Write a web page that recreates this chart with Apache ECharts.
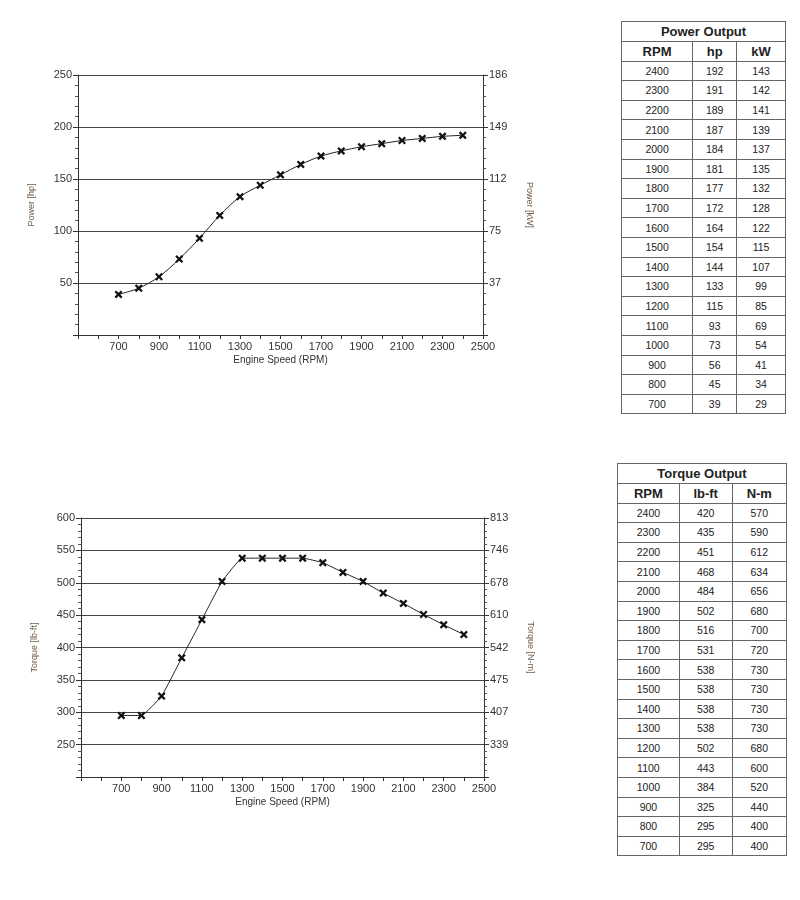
<!DOCTYPE html>
<html><head><meta charset="utf-8">
<script src="https://cdn.jsdelivr.net/npm/echarts@6/dist/echarts.min.js"></script>
<style>
body{margin:0;background:#fff;font-family:"Liberation Sans",Arial,sans-serif;}
#c{position:absolute;left:0;top:0;width:800px;height:900px;}
table{position:absolute;border-collapse:collapse;font-size:10.5px;color:#222;background:#fff;}
td,th{border:1px solid #666;text-align:center;padding:0;height:18.6px;}
th{font-weight:bold;font-size:13px;}
</style></head><body>
<div id="c"></div>
<table id="tp" style="left:621px;top:21px;width:165px;"></table>
<table id="tt" style="left:617px;top:463px;width:170px;"></table>
<script>
const rpm=[700,800,900,1000,1100,1200,1300,1400,1500,1600,1700,1800,1900,2000,2100,2200,2300,2400];
const hp=[39,45,56,73,93,115,133,144,154,164,172,177,181,184,187,189,191,192];
const kw=[29,34,41,54,69,85,99,107,115,122,128,132,135,137,139,141,142,143];
const lbft=[295,295,325,384,443,502,538,538,538,538,531,516,502,484,468,451,435,420];
const nm=[400,400,440,520,600,680,730,730,730,730,720,700,680,656,634,612,590,570];
const kwLabels={50:'37',100:'75',150:'112',200:'149',250:'186'};
const nmLabels={250:'339',300:'407',350:'475',400:'542',450:'610',500:'678',550:'746',600:'813'};

function buildTable(id,title,h1,h2,a,b){
  let s='<tr><th colspan="3" style="height:19px">'+title+'</th></tr><tr><th>RPM</th><th>'+h1+'</th><th>'+h2+'</th></tr>';
  for(let i=rpm.length-1;i>=0;i--) s+='<tr><td>'+rpm[i]+'</td><td>'+a[i]+'</td><td>'+b[i]+'</td></tr>';
  document.getElementById(id).innerHTML=s;
}
buildTable('tp','Power Output','hp','kW',hp,kw);
buildTable('tt','Torque Output','lb-ft','N-m',lbft,nm);

const X='path://M0,2L2,0L5,3L8,0L10,2L7,5L10,8L8,10L5,7L2,10L0,8L3,5Z';
const lab={color:'#333',fontSize:11,fontFamily:'Liberation Sans'};
function xAxis(g){return {type:'value',gridIndex:g,min:500,max:2500,interval:100,
  name:'Engine Speed (RPM)',nameLocation:'middle',nameGap:20,nameTextStyle:{fontSize:10,color:'#333'},
  axisLine:{lineStyle:{color:'#333'}},axisTick:{inside:false,length:4,lineStyle:{color:'#333'}},
  axisLabel:Object.assign({margin:6,formatter:v=>(v>=700&&v%200===100)||v===2500?String(v):''},lab),
  splitLine:{show:false}};}
function yAxis(g,min,max,pos,fmt,name,split){return {type:'value',gridIndex:g,min:min,max:max,interval:50,position:pos,
  name:name,nameLocation:'middle',nameGap:pos==='left'?42:42,nameRotate:pos==='left'?90:-90,
  nameTextStyle:{fontSize:9,color:'#6d5a48'},
  axisLine:{show:true,lineStyle:{color:'#333'}},axisTick:{show:true,length:5,lineStyle:{color:'#333'}},
  minorTick:{show:true,splitNumber:5,length:3,lineStyle:{color:'#555'}},
  axisLabel:Object.assign({margin:6,formatter:fmt},lab),
  splitLine:{show:split,lineStyle:{color:'#444',width:1}}};}
const chart=echarts.init(document.getElementById('c'));
chart.setOption({
  animation:false,
  grid:[{left:78,top:75,width:405,height:260},{left:81,top:518,width:403,height:259}],
  xAxis:[xAxis(0),xAxis(1)],
  yAxis:[
    yAxis(0,0,250,'left',v=>v===0?'':String(v),'Power [hp]',true),
    yAxis(0,0,250,'right',v=>kwLabels[v]||'','Power [kW]',false),
    yAxis(1,200,600,'left',v=>v===200?'':String(v),'Torque [lb-ft]',true),
    yAxis(1,200,600,'right',v=>nmLabels[v]||'','Torque [N-m]',false)
  ],
  series:[
    {type:'line',xAxisIndex:0,yAxisIndex:0,data:rpm.map((r,i)=>[r,hp[i]]),smooth:0.3,
     symbol:X,symbolSize:8,itemStyle:{color:'#111'},lineStyle:{color:'#222',width:1}},
    {type:'line',xAxisIndex:1,yAxisIndex:2,data:rpm.map((r,i)=>[r,lbft[i]]),smooth:0.1,
     symbol:X,symbolSize:8,itemStyle:{color:'#111'},lineStyle:{color:'#222',width:1}}
  ]
});
</script></body></html>
